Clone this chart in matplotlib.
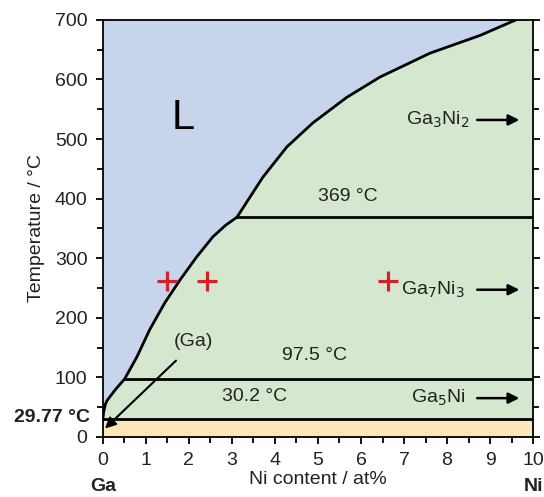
import numpy as np
import matplotlib.pyplot as plt
from matplotlib.patches import Polygon

plt.rcParams['font.family'] = ['Liberation Sans', 'DejaVu Sans']

# liquidus curve (Ni at%, T in degC)
liq_x = [0.0, 0.02, 0.06, 0.1, 0.16, 0.3, 0.51, 0.79, 1.09, 1.44, 1.79, 2.18,
         2.56, 2.85, 3.12, 3.72, 4.28, 4.88, 5.67, 6.44, 7.6, 8.77, 9.6]
liq_t = [29.77, 42, 55, 61, 67, 80, 97.5, 134, 180, 225, 263, 302,
         336, 355, 369, 436, 487, 527, 570, 604, 644, 674, 700]

T_eut = 29.77
T_ga5ni = 97.5
T_ga7ni3 = 369
x_ga5ni_start = 0.51
x_ga7ni3_start = 3.12

cross_x = [1.5, 2.42, 6.63]
cross_t = [262, 262, 262]

phases = ['Ga$_3$Ni$_2$', 'Ga$_7$Ni$_3$', 'Ga$_5$Ni']
phase_x = [7.79, 7.66, 7.8]
phase_t = [532, 247, 65]

BLUE = '#c6d5ec'
GREEN = '#d5e7ce'
BEIGE = '#fde7b9'
TEXT = '#222222'

fig = plt.figure(figsize=(5.44, 4.97), dpi=100)
ax = fig.add_axes([0.189, 0.121, 0.791, 0.839])

ax.set_xlim(0, 10)
ax.set_ylim(0, 700)

# regions
ax.add_patch(Polygon([(0, 0), (10, 0), (10, T_eut), (0, T_eut)], color=BEIGE, lw=0, zorder=0))
green_pts = list(zip(liq_x, liq_t)) + [(10, 700), (10, T_eut)]
ax.add_patch(Polygon(green_pts, color=GREEN, lw=0, zorder=0))
blue_pts = list(zip(liq_x, liq_t)) + [(0, 700)]
ax.add_patch(Polygon(blue_pts, color=BLUE, lw=0, zorder=0))

# phase boundaries
ax.plot(liq_x, liq_t, color='black', lw=2.0, zorder=3, solid_joinstyle='round')
ax.plot([0, 10], [T_eut, T_eut], color='black', lw=2.0, zorder=3)
ax.plot([x_ga5ni_start, 10], [T_ga5ni, T_ga5ni], color='black', lw=2.0, zorder=3)
ax.plot([x_ga7ni3_start, 10], [T_ga7ni3, T_ga7ni3], color='black', lw=2.0, zorder=3)

# red crosses
ax.plot(cross_x, cross_t, linestyle='none', marker='+', color='#d42027',
        markersize=15, markeredgewidth=2.3, zorder=4)

# labels
ax.text(1.86, 535, 'L', fontsize=30, ha='center', va='center')
ax.text(5.7, 403, '369 °C', fontsize=14, ha='center', va='center', color=TEXT)
ax.text(4.93, 137, '97.5 °C', fontsize=14, ha='center', va='center', color=TEXT)
ax.text(3.53, 67, '30.2 °C', fontsize=14, ha='center', va='center', color=TEXT)
ax.text(2.1, 160, '(Ga)', fontsize=14, ha='center', va='center', color=TEXT)
ax.annotate('', xy=(0.05, 14), xytext=(1.7, 128),
            arrowprops=dict(arrowstyle='-|>', color='black', lw=1.5, mutation_scale=16,
                            shrinkA=0, shrinkB=0))

for name, px, pt in zip(phases, phase_x, phase_t):
    ax.text(px, pt, name, fontsize=14, ha='center', va='center', color=TEXT)
    ax.annotate('', xy=(9.68, pt), xytext=(8.7, pt),
                arrowprops=dict(arrowstyle='-|>', color='black', lw=1.8, mutation_scale=16,
                                shrinkA=0, shrinkB=0))

# axes formatting
ax.set_xticks(np.arange(0, 11, 1))
ax.set_xticks(np.arange(0, 10.01, 0.5), minor=True)
ax.set_yticks(np.arange(0, 701, 100))
ax.set_yticks(np.arange(0, 701, 50), minor=True)
ax.tick_params(axis='both', which='major', labelsize=14, length=5, width=1.3,
               labelcolor=TEXT)
ax.tick_params(axis='x', which='major', pad=6)
ax.tick_params(axis='y', which='major', pad=6)
ax.tick_params(axis='both', which='minor', length=4, width=1.3)
ax.tick_params(axis='y', which='both', right=True)
for s in ax.spines.values():
    s.set_linewidth(1.3)

ax.set_xlabel('Ni content / at%', fontsize=14, labelpad=1, color=TEXT)
ax.set_ylabel('Temperature / °C', fontsize=14, color=TEXT)
ax.yaxis.set_label_coords(-0.135, 0.5)

ax.text(-0.03, 33, '29.77 °C', fontsize=14, fontweight='bold', color=TEXT,
        ha='right', va='center', transform=ax.get_yaxis_transform())
ax.text(0, -0.12, 'Ga', fontsize=14, fontweight='bold', ha='center', va='center',
        color=TEXT, transform=ax.get_xaxis_transform())
ax.text(10, -0.12, 'Ni', fontsize=14, fontweight='bold', ha='center', va='center',
        color=TEXT, transform=ax.get_xaxis_transform())

fig.savefig('out.png', dpi=100)
